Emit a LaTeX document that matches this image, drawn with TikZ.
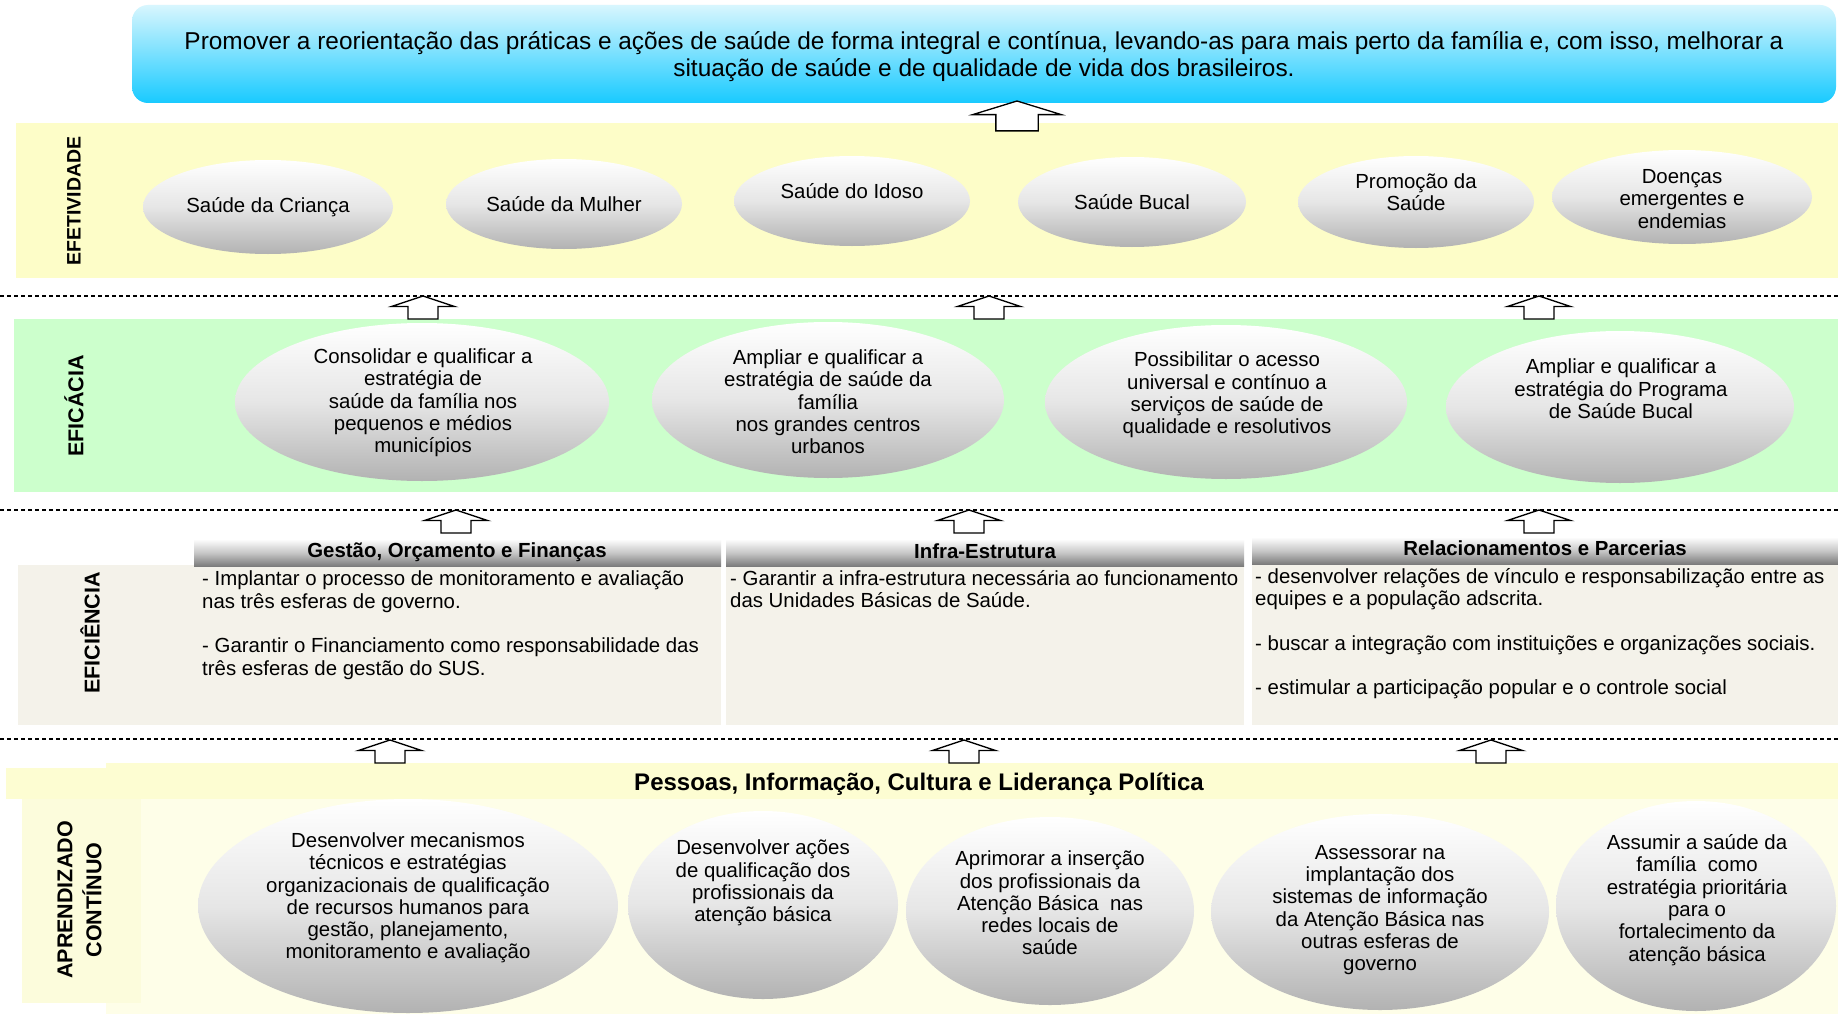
\documentclass[tikz,border=0pt]{standalone}
\usepackage{fontspec}
\setmainfont{Liberation Sans}
\usetikzlibrary{shapes.geometric}
\definecolor{effyellow}{HTML}{FDFDC8}
\definecolor{effgreen}{HTML}{CCFFCC}
\definecolor{efibeige}{HTML}{F4F2EA}
\definecolor{aprhead}{HTML}{FDFDD2}
\definecolor{aprbody}{HTML}{FEFEE8}
\definecolor{aprstrip}{HTML}{FCFCDC}
\definecolor{topA}{HTML}{D8F6FE}
\definecolor{topB}{HTML}{18CAFF}
\definecolor{ellmid}{HTML}{E6E6E6}
\definecolor{ellbot}{HTML}{B2B2B2}
\definecolor{hdrbot}{HTML}{7C7C7C}
\definecolor{hdrmid}{HTML}{C8C8C8}
\tikzset{
  bubble/.style={ellipse, inner sep=0pt, top color=white, bottom color=ellbot, middle color=ellmid},
  btxt/.style={align=center, font=\fontsize{20.4}{22.3}\selectfont, inner sep=0pt},
  lbl/.style={rotate=90, font=\bfseries\fontsize{21.5}{29}\selectfont, align=center, inner sep=0pt},
  hdrbar/.style={top color=white, bottom color=hdrbot, middle color=hdrmid},
  hdrtxt/.style={font=\bfseries\fontsize{20.4}{22}\selectfont, inner sep=0pt},
  bodytxt/.style={align=left, font=\fontsize{20.4}{22.3}\selectfont, inner sep=0pt, anchor=north west},
  sepline/.style={dash pattern=on 4pt off 3pt, line width=1.2pt},
  uparr/.pic={\draw[fill=white, line width=1.3pt, line join=miter] (0,0) -- (31.5,10.5) -- (15,10.5) -- (15,23) -- (-15,23) -- (-15,10.5) -- (-31.5,10.5) -- cycle;}
}
\begin{document}
\begin{tikzpicture}[x=1pt,y=-1pt]
\useasboundingbox (0,0) rectangle (1838,1014);
\fill[white] (0,0) rectangle (1838,1014);

% goal box
\node (goal) [rounded corners=16pt, top color=topA, bottom color=topB, minimum width=1704pt, minimum height=98pt, inner sep=0pt] at (984,54) {};
\node (goaltxt) [align=center, font=\fontsize{24.4}{27}\selectfont, inner sep=0pt] at (984,56.5)
 {Promover a reorientação das práticas e ações de saúde de forma integral e contínua, levando-as para mais perto da família e, com isso, melhorar a\\situação de saúde e de qualidade de vida dos brasileiros.};

% EFETIVIDADE
\fill[effyellow] (16,123) rectangle (1838,278);
\node[lbl, font=\bfseries\fontsize{19.5}{29}\selectfont] (l1) at (74,201) {EFETIVIDADE};
\node[bubble, minimum width=250pt, minimum height=94pt] (a1) at (268,207) {};
\node[btxt] (ta1) at (268,207) {Saúde da Criança};
\node[bubble, minimum width=236pt, minimum height=90pt] (a2) at (564,204) {};
\node[btxt] (ta2) at (564,204) {Saúde da Mulher};
\node[bubble, minimum width=236pt, minimum height=90pt] (a3) at (852,201) {};
\node[btxt] (ta3) at (852,191) {Saúde do Idoso};
\node[bubble, minimum width=228pt, minimum height=90pt] (a4) at (1132,202) {};
\node[btxt] (ta4) at (1132,202) {Saúde Bucal};
\node[bubble, minimum width=236pt, minimum height=92pt] (a5) at (1416,202) {};
\node[btxt] (ta5) at (1416,192) {Promoção da\\Saúde};
\node[bubble, minimum width=260pt, minimum height=94pt] (a6) at (1682,197) {};
\node[btxt] (ta6) at (1682,199) {Doenças\\emergentes e\\endemias};

\draw[sepline] (0,296) -- (1838,296);

% EFICACIA
\fill[effgreen] (14,319) rectangle (1838,492);
\node[lbl] (l2) at (74,406) {EFICÁCIA};
\node[bubble, minimum width=374pt, minimum height=158pt] (b1) at (422,402) {};
\node[btxt] (tb1) at (423,403) {Consolidar e qualificar a\\estratégia de\\saúde da família nos\\pequenos e médios\\municípios};
\node[bubble, minimum width=352pt, minimum height=156pt] (b2) at (828,400) {};
\node[btxt] (tb2) at (828,402) {Ampliar e qualificar a\\estratégia de saúde da\\família\\nos grandes centros\\urbanos};
\node[bubble, minimum width=362pt, minimum height=154pt] (b3) at (1226,402) {};
\node[btxt] (tb3) at (1227,395) {Possibilitar o acesso\\universal e contínuo a\\serviços de saúde de\\qualidade e resolutivos};
\node[bubble, minimum width=348pt, minimum height=152pt] (b4) at (1620,407) {};
\node[btxt] (tb4) at (1621,389) {Ampliar e qualificar a\\estratégia do Programa\\de Saúde Bucal};

\draw[sepline] (0,510) -- (1838,510);

% EFICIENCIA
\fill[efibeige] (18,565) rectangle (721,725);
\fill[efibeige] (726,565) rectangle (1244,725);
\fill[efibeige] (1252,563) rectangle (1838,725);
\fill[hdrbar] (194,539) rectangle (721,566);
\fill[hdrbar] (726,539) rectangle (1244,566);
\fill[hdrbar] (1252,537) rectangle (1838,564);
\node[lbl] (l3) at (90,633) {EFICIÊNCIA};
\node[hdrtxt] (h1) at (457,552) {Gestão, Orçamento e Finanças};
\node[hdrtxt] (h2) at (985,551) {Infra-Estrutura};
\node[hdrtxt] (h3) at (1545,548) {Relacionamentos e Parcerias};
\node[bodytxt] (c1) at (202,571) {- Implantar o processo de monitoramento e avaliação\\nas três esferas de governo.\\[22.3pt]- Garantir o Financiamento como responsabilidade das\\três esferas de gestão do SUS.};
\node[bodytxt] (c2) at (730,570) {- Garantir a infra-estrutura necessária ao funcionamento\\das Unidades Básicas de Saúde.};
\node[bodytxt] (c3) at (1255,568) {- desenvolver relações de vínculo e responsabilização entre as\\equipes e a população adscrita.\\[22.3pt]- buscar a integração com instituições e organizações sociais.\\[22.3pt]- estimular a participação popular e o controle social};

\draw[sepline] (0,739) -- (1838,739);

% APRENDIZADO
\fill[aprbody] (106,799) rectangle (1838,1014);
\fill[aprhead] (106,763) rectangle (1838,799);
\fill[aprhead] (6,768) rectangle (106,799);
\fill[aprstrip] (22,799) rectangle (141,1003);
\node[lbl] (l4) at (79.5,900) {APRENDIZADO\\CONTÍNUO};
\node[font=\bfseries\fontsize{24}{26}\selectfont, inner sep=0pt] (h4) at (919,784) {Pessoas, Informação, Cultura e Liderança Política};
\node[bubble, minimum width=420pt, minimum height=214pt] (d1) at (408,906) {};
\node[btxt] (td1) at (408,898) {Desenvolver mecanismos\\técnicos e estratégias\\organizacionais de qualificação\\de recursos humanos para\\gestão, planejamento,\\monitoramento e avaliação};
\node[bubble, minimum width=270pt, minimum height=188pt] (d2) at (763,905) {};
\node[btxt] (td2) at (763,883) {Desenvolver ações\\de qualificação dos\\profissionais da\\atenção básica};
\node[bubble, minimum width=288pt, minimum height=188pt] (d3) at (1050,911) {};
\node[btxt] (td3) at (1050,903) {Aprimorar a inserção\\dos profissionais da\\Atenção Básica \ nas\\redes locais de\\saúde};
\node[bubble, minimum width=338pt, minimum height=196pt] (d4) at (1380,912) {};
\node[btxt] (td4) at (1380,910) {Assessorar na\\implantação dos\\sistemas de informação\\da Atenção Básica nas\\outras esferas de\\governo};
\node[bubble, minimum width=280pt, minimum height=210pt] (d5) at (1696,906) {};
\node[btxt] (td5) at (1697,900) {Assumir a saúde da\\família \ como\\estratégia prioritária\\para o\\fortalecimento da\\atenção básica};

% block arrows (drawn last, above the bands)
\pic[xscale=1.41, yscale=1.3] at (1017,101) {uparr};
\pic at (423,296) {uparr};
\pic at (989,296) {uparr};
\pic at (1539,296) {uparr};
\pic at (456,510) {uparr};
\pic at (969,510) {uparr};
\pic at (1539,510) {uparr};
\pic at (390,740) {uparr};
\pic at (964,740) {uparr};
\pic at (1491,740) {uparr};
\end{tikzpicture}
\end{document}
